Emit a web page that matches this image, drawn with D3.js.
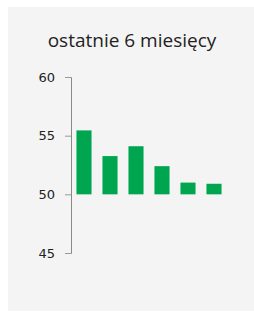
<!DOCTYPE html>
<html>
<head>
<meta charset="utf-8">
<script src="https://cdn.jsdelivr.net/npm/d3@7"></script>
<style>
  body { margin: 0; background: #fff; }
</style>
</head>
<body>
<div id="chart"></div>
<script>
// data
const months = ["m1", "m2", "m3", "m4", "m5", "m6"]
const values = [55.45, 53.26, 54.1, 52.4, 51.0, 50.9]
const tickValues = [45, 50, 55, 60]
const title = "ostatnie 6 miesięcy"

const width = 254, height = 318

const svg = d3.select("#chart")
    .append("svg")
    .attr("width", width)
    .attr("height", height)

// gray panel behind the chart
svg.append("rect")
    .attr("x", 8)
    .attr("y", 7)
    .attr("width", 246)
    .attr("height", 304)
    .attr("fill", "#f4f4f4")

svg.append("text")
    .attr("x", 132)
    .attr("y", 47)
    .attr("text-anchor", "middle")
    .attr("font-family", "Open Sans")
    .attr("font-size", 19)
    .attr("fill", "#222")
    .text(title)

// y scale, bars grow from 50
const y = d3.scaleLinear()
    .domain([45, 60])
    .range([253, 77])

const x = d3.scaleBand()
    .domain(months)
    .range([71, 227])
    .paddingInner(0.42)
    .paddingOuter(0.21)

const axis = svg.append("g")
    .attr("transform", "translate(71,0)")
    .call(d3.axisLeft(y).tickValues(tickValues).tickSize(6).tickPadding(10))

axis.select(".domain").attr("stroke", "#888")
axis.selectAll(".tick line").attr("stroke", "#999")
axis.selectAll(".tick text")
    .attr("font-family", "DejaVu Sans")
    .attr("font-size", 13)
    .attr("fill", "#222")

svg.append("g")
    .selectAll("rect")
    .data(values)
    .join("rect")
    .attr("x", (d, i) => x(months[i]))
    .attr("y", d => y(d))
    .attr("width", x.bandwidth())
    .attr("height", d => y(50) - y(d))
    .attr("fill", "#00a54f")
</script>
</body>
</html>
